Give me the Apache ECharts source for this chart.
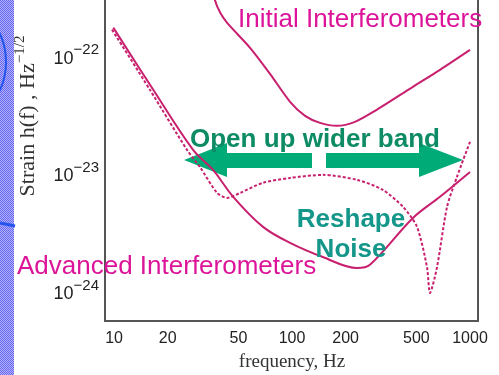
<!DOCTYPE html>
<html>
<head>
<meta charset="utf-8">
<script src="https://cdn.jsdelivr.net/npm/echarts@6/dist/echarts.min.js"></script>
<style>
  html, body { margin: 0; padding: 0; background: #fff; }
  #chart { width: 499px; height: 375px; }
</style>
</head>
<body>
<div id="chart"></div>
<script>
// Noise curves: frequency in Hz, strain amplitude in 1/sqrt(Hz)
const freqInitial = [36.0, 36.9, 39.5, 43.2, 58.1, 75.2, 97.5, 118.4, 143.6, 179, 225.9, 292.6, 478, 678.5, 1000];
const strainInitial = [4.25e-22, 3.15e-22, 2.46e-22, 2.02e-22, 1.24e-22, 7.45e-23, 4.31e-23, 3.27e-23, 2.85e-23, 2.69e-23, 2.91e-23, 3.61e-23, 5.78e-23, 8.06e-23, 1.19e-22];

const freqAdvanced = [9.9, 16.6, 27.8, 36.0, 46.7, 68.7, 97.5, 149, 232, 274, 478, 678, 1000];
const strainAdvanced = [1.84e-22, 5.45e-23, 1.68e-23, 1.135e-23, 6.7e-24, 3.72e-24, 2.72e-24, 2.06e-24, 1.66e-24, 1.77e-24, 4.43e-24, 6.7e-24, 1.09e-23];

const freqReshaped = [9.74, 15.9, 25.7, 30.4, 37.9, 43.2, 51.1, 68.7, 97.5, 149, 232, 324, 421, 504, 573, 596, 653, 743, 845, 1000];
const strainReshaped = [1.77e-22, 5.45e-23, 1.68e-23, 1.2e-23, 7.24e-24, 6.56e-24, 7.24e-24, 8.81e-24, 9.7e-24, 1.03e-23, 9.34e-24, 7.67e-24, 5.5e-24, 3.72e-24, 1.7e-24, 1.02e-24, 1.7e-24, 5.5e-24, 9.9e-24, 1.97e-23];

// Axis ticks
const freqTicks = [10, 20, 50, 100, 200, 500, 1000];
const strainTickExponents = [-24, -23, -22];

const log10 = Math.log10;
const toPoints = (fs, hs) => fs.map((f, i) => [log10(f), log10(hs[i])]);

const curveColor = '#c81f6e';
const labelMagenta = '#dc1499';
const arrowGreen = '#00ab78';

// small dotted texture for the slide edge strip
const tex = document.createElement('canvas');
tex.width = 2; tex.height = 2;
const tctx = tex.getContext('2d');
tctx.fillStyle = '#b4b4fc'; tctx.fillRect(0, 0, 2, 2);
tctx.fillStyle = '#6565f0'; tctx.fillRect(0, 0, 1, 1); tctx.fillRect(1, 1, 1, 1);

const chart = echarts.init(document.getElementById('chart'), null, { renderer: 'canvas' });

const sansFont = 'Arial, "Liberation Sans", sans-serif';
const serifFont = '"Times New Roman", "Liberation Serif", serif';

chart.setOption({
  animation: false,
  backgroundColor: '#fff',
  grid: { left: 105, right: 21, top: 0, bottom: 54 },
  xAxis: {
    type: 'value',
    min: 0.949,
    max: 3.045,
    splitLine: { show: false },
    axisLine: { show: true, onZero: false, lineStyle: { color: '#555', width: 2 } },
    axisTick: { show: false },
    axisLabel: {
      customValues: freqTicks.map(log10),
      formatter: v => String(Math.round(Math.pow(10, v))),
      color: '#222',
      fontFamily: sansFont,
      fontSize: 16,
      margin: 10
    }
  },
  yAxis: [{
    type: 'value',
    min: -24.23,
    max: -21.5,
    splitLine: { show: false },
    axisLine: { show: true, onZero: false, lineStyle: { color: '#555', width: 2 } },
    axisTick: { show: false },
    axisLabel: {
      customValues: strainTickExponents,
      formatter: v => '{b|10}{s|' + String(Math.round(v)).replace('-', '\u2212') + '}',
      margin: 6,
      rich: {
        b: { fontSize: 18, fontFamily: sansFont, color: '#222', lineHeight: 32, verticalAlign: 'middle' },
        s: { fontSize: 15, fontFamily: sansFont, color: '#222', lineHeight: 15, verticalAlign: 'top' }
      }
    }
  }, {
    type: 'value',
    position: 'right',
    min: -24.23,
    max: -21.5,
    splitLine: { show: false },
    axisLine: { show: true, onZero: false, lineStyle: { color: '#555', width: 2 } },
    axisTick: { show: false },
    axisLabel: { show: false }
  }],
  series: [
    {
      name: 'Initial',
      type: 'line',
      data: toPoints(freqInitial, strainInitial),
      smooth: 0.3,
      symbol: 'none',
      lineStyle: { color: curveColor, width: 2 },
      z: 5
    },
    {
      name: 'Advanced',
      type: 'line',
      data: toPoints(freqAdvanced, strainAdvanced),
      smooth: 0.35,
      symbol: 'none',
      lineStyle: { color: curveColor, width: 2 },
      z: 5
    },
    {
      name: 'Reshaped',
      type: 'line',
      data: toPoints(freqReshaped, strainReshaped),
      smooth: 0.25,
      symbol: 'none',
      lineStyle: { color: curveColor, width: 2, type: [3, 2] },
      z: 5
    }
  ],
  graphic: [
    // slide edge strip and marks
    { type: 'rect', shape: { x: 0, y: 0, width: 14, height: 375 }, style: { fill: { image: tex, repeat: 'repeat' } }, z: 1 },
    { type: 'arc', shape: { cx: -60, cy: 62, r: 66, startAngle: -Math.PI / 4, endAngle: Math.PI / 4 }, style: { stroke: '#2255ee', lineWidth: 2, fill: null }, z: 2 },
    { type: 'line', shape: { x1: 0, y1: 223, x2: 15, y2: 226 }, style: { stroke: '#2255ee', lineWidth: 3 }, z: 2 },

    // axis titles
    {
      type: 'text', x: 28, y: 116, rotation: Math.PI / 2, z: 10,
      style: {
        text: '{t|Strain h(f) , Hz}{s|\u22121/2}',
        align: 'center', verticalAlign: 'middle',
        rich: {
          t: { fontFamily: serifFont, fontSize: 22, fill: '#333', lineHeight: 30, verticalAlign: 'middle' },
          s: { fontFamily: serifFont, fontSize: 15, fill: '#333', lineHeight: 15, verticalAlign: 'top' }
        }
      }
    },
    {
      type: 'text', x: 292, y: 362, z: 10,
      style: { text: 'frequency, Hz', font: '19px ' + serifFont, fill: '#333', align: 'center', verticalAlign: 'middle' }
    },

    // arrows
    {
      type: 'polygon', z: 1,
      shape: { points: [[184, 160], [227, 143], [227, 153], [312, 153], [312, 168], [227, 168], [227, 177]] },
      style: { fill: arrowGreen }
    },
    {
      type: 'polygon', z: 1,
      shape: { points: [[463, 160], [419, 143], [419, 153], [326, 153], [326, 168], [419, 168], [419, 177]] },
      style: { fill: arrowGreen }
    },

    // annotations
    {
      type: 'text', x: 238, y: 20, z: 20,
      style: { text: 'Initial Interferometers', font: '26px ' + sansFont, fill: labelMagenta, align: 'left', verticalAlign: 'middle' }
    },
    {
      type: 'text', x: 17, y: 267, z: 20,
      style: { text: 'Advanced Interferometers', font: '26px ' + sansFont, fill: labelMagenta, align: 'left', verticalAlign: 'middle' }
    },
    {
      type: 'text', x: 190, y: 140, z: 20,
      style: { text: 'Open up wider band', font: 'bold 26px ' + sansFont, fill: '#0d8b64', align: 'left', verticalAlign: 'middle' }
    },
    {
      type: 'text', x: 351, y: 220, z: 20,
      style: { text: 'Reshape', font: 'bold 26px ' + sansFont, fill: '#14968a', align: 'center', verticalAlign: 'middle' }
    },
    {
      type: 'text', x: 351, y: 250, z: 20,
      style: { text: 'Noise', font: 'bold 26px ' + sansFont, fill: '#14968a', align: 'center', verticalAlign: 'middle' }
    }
  ]
});
</script>
</body>
</html>
